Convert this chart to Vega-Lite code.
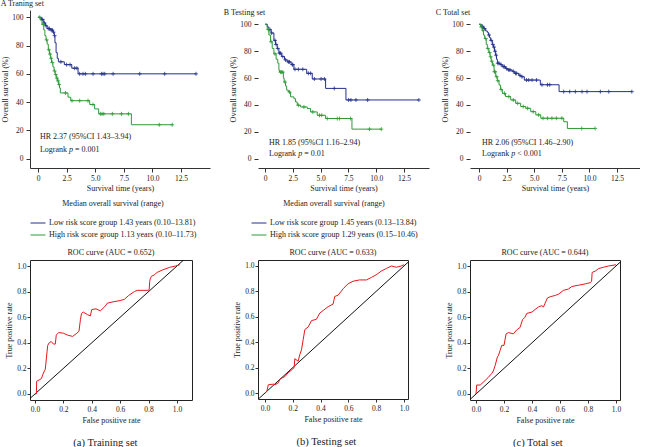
{
"$schema":"https://vega.github.io/schema/vega-lite/v6.json",
"padding":{"left":0,"top":0,"right":0,"bottom":0},
"datasets":{
"km":[
{"p":"A","g":"L","t":0,"s":100},{"p":"A","g":"L","t":0.3,"s":98.5},{"p":"A","g":"L","t":0.5,"s":96},{"p":"A","g":"L","t":0.65,"s":94},{"p":"A","g":"L","t":0.8,"s":92},{"p":"A","g":"L","t":1.1,"s":91},{"p":"A","g":"L","t":1.3,"s":89.5},{"p":"A","g":"L","t":1.42,"s":87},{"p":"A","g":"L","t":1.48,"s":82},{"p":"A","g":"L","t":1.58,"s":75},{"p":"A","g":"L","t":1.68,"s":71},{"p":"A","g":"L","t":1.78,"s":68.5},{"p":"A","g":"L","t":2.3,"s":66.5},{"p":"A","g":"L","t":2.95,"s":64},{"p":"A","g":"L","t":3.5,"s":60},{"p":"A","g":"L","t":13.81,"s":60},
{"p":"A","g":"H","t":0,"s":100},{"p":"A","g":"H","t":0.2,"s":98},{"p":"A","g":"H","t":0.35,"s":95},{"p":"A","g":"H","t":0.5,"s":91},{"p":"A","g":"H","t":0.6,"s":87},{"p":"A","g":"H","t":0.7,"s":84},{"p":"A","g":"H","t":0.8,"s":81},{"p":"A","g":"H","t":0.9,"s":77},{"p":"A","g":"H","t":1.0,"s":74},{"p":"A","g":"H","t":1.1,"s":71},{"p":"A","g":"H","t":1.18,"s":68},{"p":"A","g":"H","t":1.3,"s":65},{"p":"A","g":"H","t":1.4,"s":62},{"p":"A","g":"H","t":1.5,"s":59.5},{"p":"A","g":"H","t":1.6,"s":57},{"p":"A","g":"H","t":1.7,"s":55},{"p":"A","g":"H","t":1.8,"s":52.5},{"p":"A","g":"H","t":1.88,"s":50},{"p":"A","g":"H","t":1.95,"s":46.5},{"p":"A","g":"H","t":2.62,"s":43.5},{"p":"A","g":"H","t":2.86,"s":41},{"p":"A","g":"H","t":4.52,"s":38.3},{"p":"A","g":"H","t":4.95,"s":35.2},{"p":"A","g":"H","t":5.3,"s":31.7},{"p":"A","g":"H","t":8.16,"s":24},{"p":"A","g":"H","t":11.73,"s":24},
{"p":"B","g":"L","t":0,"s":100},{"p":"B","g":"L","t":0.2,"s":98},{"p":"B","g":"L","t":0.35,"s":96},{"p":"B","g":"L","t":0.55,"s":93.5},{"p":"B","g":"L","t":0.8,"s":88},{"p":"B","g":"L","t":0.95,"s":85},{"p":"B","g":"L","t":1.1,"s":82},{"p":"B","g":"L","t":1.25,"s":78.5},{"p":"B","g":"L","t":1.5,"s":76},{"p":"B","g":"L","t":1.75,"s":73.5},{"p":"B","g":"L","t":2.0,"s":72},{"p":"B","g":"L","t":2.35,"s":70},{"p":"B","g":"L","t":2.6,"s":66.5},{"p":"B","g":"L","t":3.75,"s":63.5},{"p":"B","g":"L","t":4.25,"s":59.3},{"p":"B","g":"L","t":5.45,"s":52.3},{"p":"B","g":"L","t":7.28,"s":43.7},{"p":"B","g":"L","t":13.84,"s":43.7},
{"p":"B","g":"H","t":0,"s":100},{"p":"B","g":"H","t":0.2,"s":96},{"p":"B","g":"H","t":0.35,"s":92},{"p":"B","g":"H","t":0.5,"s":87},{"p":"B","g":"H","t":0.65,"s":82},{"p":"B","g":"H","t":0.8,"s":78},{"p":"B","g":"H","t":1.0,"s":74},{"p":"B","g":"H","t":1.15,"s":71},{"p":"B","g":"H","t":1.25,"s":66},{"p":"B","g":"H","t":1.3,"s":64.4},{"p":"B","g":"H","t":1.65,"s":60},{"p":"B","g":"H","t":1.72,"s":57},{"p":"B","g":"H","t":1.85,"s":54},{"p":"B","g":"H","t":1.95,"s":51},{"p":"B","g":"H","t":2.1,"s":49.6},{"p":"B","g":"H","t":2.3,"s":46},{"p":"B","g":"H","t":2.6,"s":44.6},{"p":"B","g":"H","t":2.75,"s":42.2},{"p":"B","g":"H","t":2.9,"s":39.8},{"p":"B","g":"H","t":3.2,"s":38.5},{"p":"B","g":"H","t":3.8,"s":37.3},{"p":"B","g":"H","t":4.1,"s":34.8},{"p":"B","g":"H","t":4.7,"s":32.3},{"p":"B","g":"H","t":5.45,"s":29.9},{"p":"B","g":"H","t":7.82,"s":22},{"p":"B","g":"H","t":10.46,"s":22},
{"p":"C","g":"L","t":0,"s":100},{"p":"C","g":"L","t":0.2,"s":98.5},{"p":"C","g":"L","t":0.4,"s":96.8},{"p":"C","g":"L","t":0.6,"s":95},{"p":"C","g":"L","t":0.75,"s":94},{"p":"C","g":"L","t":0.85,"s":92},{"p":"C","g":"L","t":0.95,"s":90},{"p":"C","g":"L","t":1.05,"s":88},{"p":"C","g":"L","t":1.2,"s":85},{"p":"C","g":"L","t":1.3,"s":83},{"p":"C","g":"L","t":1.4,"s":80},{"p":"C","g":"L","t":1.5,"s":77},{"p":"C","g":"L","t":1.58,"s":74},{"p":"C","g":"L","t":1.66,"s":71},{"p":"C","g":"L","t":1.9,"s":70},{"p":"C","g":"L","t":2.1,"s":68.5},{"p":"C","g":"L","t":2.4,"s":67},{"p":"C","g":"L","t":2.6,"s":66},{"p":"C","g":"L","t":3.0,"s":65},{"p":"C","g":"L","t":3.2,"s":63.5},{"p":"C","g":"L","t":3.6,"s":62},{"p":"C","g":"L","t":3.8,"s":61},{"p":"C","g":"L","t":4.1,"s":58.5},{"p":"C","g":"L","t":5.55,"s":55},{"p":"C","g":"L","t":7.25,"s":49.9},{"p":"C","g":"L","t":13.84,"s":49.9},
{"p":"C","g":"H","t":0,"s":100},{"p":"C","g":"H","t":0.15,"s":98},{"p":"C","g":"H","t":0.3,"s":95.6},{"p":"C","g":"H","t":0.4,"s":92},{"p":"C","g":"H","t":0.51,"s":89.4},{"p":"C","g":"H","t":0.65,"s":85},{"p":"C","g":"H","t":0.75,"s":82},{"p":"C","g":"H","t":0.88,"s":79},{"p":"C","g":"H","t":1.0,"s":75.8},{"p":"C","g":"H","t":1.1,"s":72.5},{"p":"C","g":"H","t":1.21,"s":69.6},{"p":"C","g":"H","t":1.36,"s":64.7},{"p":"C","g":"H","t":1.51,"s":61},{"p":"C","g":"H","t":1.65,"s":58},{"p":"C","g":"H","t":1.81,"s":54.8},{"p":"C","g":"H","t":1.95,"s":51.5},{"p":"C","g":"H","t":2.11,"s":48.6},{"p":"C","g":"H","t":2.4,"s":46.2},{"p":"C","g":"H","t":2.87,"s":43.7},{"p":"C","g":"H","t":3.32,"s":41.2},{"p":"C","g":"H","t":3.77,"s":38.8},{"p":"C","g":"H","t":4.23,"s":37.5},{"p":"C","g":"H","t":4.68,"s":35},{"p":"C","g":"H","t":5.14,"s":32.6},{"p":"C","g":"H","t":5.59,"s":30.1},{"p":"C","g":"H","t":7.67,"s":27.5},{"p":"C","g":"H","t":8.0,"s":22.5},{"p":"C","g":"H","t":10.51,"s":22.5}
],
"cens":[
{"p":"A","g":"L","t":0.4,"s":98.5},{"p":"A","g":"L","t":0.55,"s":96},{"p":"A","g":"L","t":0.7,"s":94},{"p":"A","g":"L","t":0.9,"s":92},{"p":"A","g":"L","t":1.0,"s":92},{"p":"A","g":"L","t":1.15,"s":91},{"p":"A","g":"L","t":1.25,"s":91},{"p":"A","g":"L","t":1.35,"s":89.5},{"p":"A","g":"L","t":1.45,"s":87},{"p":"A","g":"L","t":2.0,"s":68.5},{"p":"A","g":"L","t":2.5,"s":66.5},{"p":"A","g":"L","t":2.8,"s":66.5},{"p":"A","g":"L","t":3.2,"s":64},{"p":"A","g":"L","t":3.4,"s":64},{"p":"A","g":"L","t":3.64,"s":60},{"p":"A","g":"L","t":3.93,"s":60},{"p":"A","g":"L","t":4.14,"s":60},{"p":"A","g":"L","t":4.81,"s":60},{"p":"A","g":"L","t":5.54,"s":60},{"p":"A","g":"L","t":5.68,"s":60},{"p":"A","g":"L","t":5.83,"s":60},{"p":"A","g":"L","t":6.56,"s":60},{"p":"A","g":"L","t":8.89,"s":60},{"p":"A","g":"L","t":11.07,"s":60},{"p":"A","g":"L","t":13.81,"s":60},
{"p":"A","g":"H","t":0.15,"s":100},{"p":"A","g":"H","t":0.45,"s":95},{"p":"A","g":"H","t":0.75,"s":84},{"p":"A","g":"H","t":0.95,"s":77},{"p":"A","g":"H","t":1.05,"s":74},{"p":"A","g":"H","t":1.15,"s":71},{"p":"A","g":"H","t":1.25,"s":68},{"p":"A","g":"H","t":1.45,"s":62},{"p":"A","g":"H","t":1.55,"s":59.5},{"p":"A","g":"H","t":1.65,"s":57},{"p":"A","g":"H","t":1.75,"s":55},{"p":"A","g":"H","t":1.85,"s":52.5},{"p":"A","g":"H","t":2.4,"s":46.5},{"p":"A","g":"H","t":2.97,"s":41},{"p":"A","g":"H","t":3.64,"s":41},{"p":"A","g":"H","t":4.37,"s":41},{"p":"A","g":"H","t":4.8,"s":38.3},{"p":"A","g":"H","t":5.45,"s":31.7},{"p":"A","g":"H","t":5.6,"s":31.7},{"p":"A","g":"H","t":5.75,"s":31.7},{"p":"A","g":"H","t":6.5,"s":31.7},{"p":"A","g":"H","t":7.3,"s":31.7},{"p":"A","g":"H","t":7.9,"s":31.7},{"p":"A","g":"H","t":10.6,"s":24},{"p":"A","g":"H","t":11.73,"s":24},
{"p":"B","g":"L","t":0.45,"s":96},{"p":"B","g":"L","t":0.6,"s":93.5},{"p":"B","g":"L","t":0.9,"s":88},{"p":"B","g":"L","t":1.0,"s":85},{"p":"B","g":"L","t":1.15,"s":82},{"p":"B","g":"L","t":1.3,"s":78.5},{"p":"B","g":"L","t":1.4,"s":78.5},{"p":"B","g":"L","t":1.6,"s":76},{"p":"B","g":"L","t":1.85,"s":73.5},{"p":"B","g":"L","t":2.1,"s":72},{"p":"B","g":"L","t":2.2,"s":72},{"p":"B","g":"L","t":2.45,"s":70},{"p":"B","g":"L","t":2.5,"s":70},{"p":"B","g":"L","t":2.7,"s":66.5},{"p":"B","g":"L","t":3.0,"s":66.5},{"p":"B","g":"L","t":3.4,"s":66.5},{"p":"B","g":"L","t":3.9,"s":63.5},{"p":"B","g":"L","t":4.1,"s":63.5},{"p":"B","g":"L","t":4.44,"s":59.3},{"p":"B","g":"L","t":5.04,"s":59.3},{"p":"B","g":"L","t":5.34,"s":59.3},{"p":"B","g":"L","t":6.23,"s":52.3},{"p":"B","g":"L","t":7.52,"s":43.7},{"p":"B","g":"L","t":7.73,"s":43.7},{"p":"B","g":"L","t":8.18,"s":43.7},{"p":"B","g":"L","t":9.23,"s":43.7},{"p":"B","g":"L","t":13.84,"s":43.7},
{"p":"B","g":"H","t":0.3,"s":96},{"p":"B","g":"H","t":0.55,"s":87},{"p":"B","g":"H","t":0.9,"s":78},{"p":"B","g":"H","t":1.4,"s":64.4},{"p":"B","g":"H","t":1.5,"s":64.4},{"p":"B","g":"H","t":1.6,"s":64.4},{"p":"B","g":"H","t":1.8,"s":57},{"p":"B","g":"H","t":2.2,"s":49.6},{"p":"B","g":"H","t":3.0,"s":39.8},{"p":"B","g":"H","t":3.5,"s":38.5},{"p":"B","g":"H","t":4.3,"s":34.8},{"p":"B","g":"H","t":4.9,"s":32.3},{"p":"B","g":"H","t":5.1,"s":32.3},{"p":"B","g":"H","t":5.6,"s":29.9},{"p":"B","g":"H","t":6.5,"s":29.9},{"p":"B","g":"H","t":6.7,"s":29.9},{"p":"B","g":"H","t":7.7,"s":29.9},{"p":"B","g":"H","t":9.4,"s":22},{"p":"B","g":"H","t":10.46,"s":22},
{"p":"C","g":"L","t":0.3,"s":98.5},{"p":"C","g":"L","t":0.5,"s":96.8},{"p":"C","g":"L","t":0.9,"s":92},{"p":"C","g":"L","t":1.1,"s":88},{"p":"C","g":"L","t":1.25,"s":85},{"p":"C","g":"L","t":1.35,"s":83},{"p":"C","g":"L","t":1.45,"s":80},{"p":"C","g":"L","t":1.55,"s":77},{"p":"C","g":"L","t":1.7,"s":71},{"p":"C","g":"L","t":1.8,"s":71},{"p":"C","g":"L","t":2.0,"s":70},{"p":"C","g":"L","t":2.2,"s":68.5},{"p":"C","g":"L","t":2.3,"s":68.5},{"p":"C","g":"L","t":2.5,"s":67},{"p":"C","g":"L","t":2.7,"s":66},{"p":"C","g":"L","t":2.8,"s":66},{"p":"C","g":"L","t":3.1,"s":65},{"p":"C","g":"L","t":3.3,"s":63.5},{"p":"C","g":"L","t":3.4,"s":63.5},{"p":"C","g":"L","t":3.7,"s":62},{"p":"C","g":"L","t":3.9,"s":61},{"p":"C","g":"L","t":4.3,"s":58.5},{"p":"C","g":"L","t":4.5,"s":58.5},{"p":"C","g":"L","t":4.8,"s":58.5},{"p":"C","g":"L","t":5.2,"s":58.5},{"p":"C","g":"L","t":5.7,"s":55},{"p":"C","g":"L","t":6.2,"s":55},{"p":"C","g":"L","t":6.4,"s":55},{"p":"C","g":"L","t":7.67,"s":49.9},{"p":"C","g":"L","t":8.21,"s":49.9},{"p":"C","g":"L","t":8.72,"s":49.9},{"p":"C","g":"L","t":9.33,"s":49.9},{"p":"C","g":"L","t":9.78,"s":49.9},{"p":"C","g":"L","t":10.99,"s":49.9},{"p":"C","g":"L","t":11.75,"s":49.9},{"p":"C","g":"L","t":13.84,"s":49.9},
{"p":"C","g":"H","t":0.2,"s":98},{"p":"C","g":"H","t":0.35,"s":95.6},{"p":"C","g":"H","t":0.6,"s":89.4},{"p":"C","g":"H","t":0.8,"s":82},{"p":"C","g":"H","t":0.95,"s":79},{"p":"C","g":"H","t":1.05,"s":75.8},{"p":"C","g":"H","t":1.15,"s":72.5},{"p":"C","g":"H","t":1.3,"s":69.6},{"p":"C","g":"H","t":1.4,"s":64.7},{"p":"C","g":"H","t":1.45,"s":64.7},{"p":"C","g":"H","t":1.6,"s":61},{"p":"C","g":"H","t":1.7,"s":58},{"p":"C","g":"H","t":2.0,"s":51.5},{"p":"C","g":"H","t":2.3,"s":48.6},{"p":"C","g":"H","t":2.7,"s":46.2},{"p":"C","g":"H","t":3.1,"s":43.7},{"p":"C","g":"H","t":3.5,"s":41.2},{"p":"C","g":"H","t":4.0,"s":38.8},{"p":"C","g":"H","t":4.4,"s":37.5},{"p":"C","g":"H","t":4.9,"s":35},{"p":"C","g":"H","t":5.4,"s":32.6},{"p":"C","g":"H","t":5.8,"s":30.1},{"p":"C","g":"H","t":6.2,"s":30.1},{"p":"C","g":"H","t":6.6,"s":30.1},{"p":"C","g":"H","t":7.0,"s":30.1},{"p":"C","g":"H","t":7.5,"s":30.1},{"p":"C","g":"H","t":9.3,"s":22.5},{"p":"C","g":"H","t":10.51,"s":22.5}
],
"ann":[
{"p":"A","t":0.17,"s":15.5,"label":"HR 2.37 (95%CI 1.43–3.94)","it":false},{"p":"A","t":0.17,"s":6.3,"label":"Logrank","it":false},{"p":"A","t":2.71,"s":6.3,"label":"p","it":true},{"p":"A","t":3.24,"s":6.3,"label":"= 0.001","it":false},
{"p":"B","t":0.36,"s":11.9,"label":"HR 1.85 (95%CI 1.16–2.94)","it":false},{"p":"B","t":0.36,"s":3.7,"label":"Logrank","it":false},{"p":"B","t":2.98,"s":3.7,"label":"p","it":true},{"p":"B","t":3.52,"s":3.7,"label":"= 0.01","it":false},
{"p":"C","t":0.27,"s":11.9,"label":"HR 2.06 (95%CI 1.46–2.90)","it":false},{"p":"C","t":0.27,"s":3.7,"label":"Logrank","it":false},{"p":"C","t":2.91,"s":3.7,"label":"p","it":true},{"p":"C","t":3.45,"s":3.7,"label":"< 0.001","it":false}
],
"diag":[{"x":-0.06,"y":-0.06},{"x":1.06,"y":1.06}],
"roc":[
{"p":"A","x":0,"y":0},{"p":"A","x":0.01,"y":0.001},{"p":"A","x":0.012,"y":0.1},{"p":"A","x":0.03,"y":0.11},{"p":"A","x":0.045,"y":0.12},{"p":"A","x":0.055,"y":0.15},{"p":"A","x":0.066,"y":0.18},{"p":"A","x":0.072,"y":0.19},{"p":"A","x":0.078,"y":0.25},{"p":"A","x":0.085,"y":0.33},{"p":"A","x":0.09,"y":0.38},{"p":"A","x":0.1,"y":0.4},{"p":"A","x":0.115,"y":0.41},{"p":"A","x":0.13,"y":0.39},{"p":"A","x":0.143,"y":0.39},{"p":"A","x":0.15,"y":0.46},{"p":"A","x":0.167,"y":0.48},{"p":"A","x":0.2,"y":0.475},{"p":"A","x":0.23,"y":0.46},{"p":"A","x":0.265,"y":0.45},{"p":"A","x":0.29,"y":0.47},{"p":"A","x":0.31,"y":0.49},{"p":"A","x":0.32,"y":0.58},{"p":"A","x":0.328,"y":0.63},{"p":"A","x":0.34,"y":0.64},{"p":"A","x":0.37,"y":0.62},{"p":"A","x":0.39,"y":0.61},{"p":"A","x":0.4,"y":0.66},{"p":"A","x":0.43,"y":0.665},{"p":"A","x":0.46,"y":0.65},{"p":"A","x":0.49,"y":0.68},{"p":"A","x":0.51,"y":0.71},{"p":"A","x":0.55,"y":0.72},{"p":"A","x":0.6,"y":0.73},{"p":"A","x":0.63,"y":0.74},{"p":"A","x":0.66,"y":0.77},{"p":"A","x":0.7,"y":0.8},{"p":"A","x":0.72,"y":0.81},{"p":"A","x":0.8,"y":0.81},{"p":"A","x":0.805,"y":0.82},{"p":"A","x":0.808,"y":0.88},{"p":"A","x":0.812,"y":0.9},{"p":"A","x":0.82,"y":0.92},{"p":"A","x":0.84,"y":0.93},{"p":"A","x":0.86,"y":0.95},{"p":"A","x":0.9,"y":0.97},{"p":"A","x":0.95,"y":0.99},{"p":"A","x":0.99,"y":1.0},{"p":"A","x":1.02,"y":1.01},
{"p":"B","x":0,"y":0},{"p":"B","x":0.007,"y":0.005},{"p":"B","x":0.015,"y":0.02},{"p":"B","x":0.024,"y":0.065},{"p":"B","x":0.06,"y":0.07},{"p":"B","x":0.072,"y":0.065},{"p":"B","x":0.096,"y":0.08},{"p":"B","x":0.108,"y":0.11},{"p":"B","x":0.144,"y":0.13},{"p":"B","x":0.167,"y":0.16},{"p":"B","x":0.19,"y":0.18},{"p":"B","x":0.21,"y":0.2},{"p":"B","x":0.215,"y":0.27},{"p":"B","x":0.239,"y":0.25},{"p":"B","x":0.25,"y":0.3},{"p":"B","x":0.263,"y":0.34},{"p":"B","x":0.275,"y":0.42},{"p":"B","x":0.287,"y":0.5},{"p":"B","x":0.311,"y":0.52},{"p":"B","x":0.335,"y":0.57},{"p":"B","x":0.37,"y":0.58},{"p":"B","x":0.395,"y":0.63},{"p":"B","x":0.419,"y":0.65},{"p":"B","x":0.455,"y":0.68},{"p":"B","x":0.49,"y":0.7},{"p":"B","x":0.502,"y":0.76},{"p":"B","x":0.526,"y":0.77},{"p":"B","x":0.562,"y":0.82},{"p":"B","x":0.598,"y":0.86},{"p":"B","x":0.634,"y":0.88},{"p":"B","x":0.68,"y":0.89},{"p":"B","x":0.73,"y":0.89},{"p":"B","x":0.766,"y":0.91},{"p":"B","x":0.8,"y":0.93},{"p":"B","x":0.837,"y":0.96},{"p":"B","x":0.873,"y":0.98},{"p":"B","x":0.909,"y":1.0},{"p":"B","x":0.945,"y":0.99},{"p":"B","x":0.98,"y":1.0},{"p":"B","x":1.0,"y":1.01},
{"p":"C","x":0,"y":0},{"p":"C","x":0.005,"y":0.07},{"p":"C","x":0.03,"y":0.07},{"p":"C","x":0.05,"y":0.09},{"p":"C","x":0.088,"y":0.13},{"p":"C","x":0.112,"y":0.16},{"p":"C","x":0.124,"y":0.18},{"p":"C","x":0.136,"y":0.22},{"p":"C","x":0.153,"y":0.29},{"p":"C","x":0.16,"y":0.3},{"p":"C","x":0.172,"y":0.34},{"p":"C","x":0.184,"y":0.38},{"p":"C","x":0.2,"y":0.38},{"p":"C","x":0.215,"y":0.47},{"p":"C","x":0.232,"y":0.48},{"p":"C","x":0.267,"y":0.47},{"p":"C","x":0.29,"y":0.5},{"p":"C","x":0.315,"y":0.52},{"p":"C","x":0.332,"y":0.58},{"p":"C","x":0.35,"y":0.6},{"p":"C","x":0.363,"y":0.63},{"p":"C","x":0.4,"y":0.64},{"p":"C","x":0.422,"y":0.66},{"p":"C","x":0.446,"y":0.68},{"p":"C","x":0.47,"y":0.69},{"p":"C","x":0.482,"y":0.68},{"p":"C","x":0.494,"y":0.71},{"p":"C","x":0.51,"y":0.75},{"p":"C","x":0.53,"y":0.76},{"p":"C","x":0.566,"y":0.77},{"p":"C","x":0.59,"y":0.78},{"p":"C","x":0.625,"y":0.81},{"p":"C","x":0.66,"y":0.82},{"p":"C","x":0.685,"y":0.84},{"p":"C","x":0.733,"y":0.85},{"p":"C","x":0.78,"y":0.86},{"p":"C","x":0.816,"y":0.87},{"p":"C","x":0.826,"y":0.88},{"p":"C","x":0.83,"y":0.95},{"p":"C","x":0.852,"y":0.96},{"p":"C","x":0.876,"y":0.98},{"p":"C","x":0.91,"y":0.99},{"p":"C","x":0.947,"y":1.0},{"p":"C","x":1.0,"y":1.01}
]
},
"spacing":13,
"resolve":{"scale":{"color":"independent","x":"independent","y":"independent"},"legend":{"color":"independent"}},
"hconcat":[
{"vconcat":[
 {"width":180,"height":158,"title":{"text":"A Traning set","anchor":"start","fontSize":8,"offset":2,"dx":-1},
  "layer":[
   {"data":{"name":"km"},"transform":[{"filter":"datum.p=='A'"}],"mark":{"type":"line","interpolate":"step-after","strokeWidth":1},
    "encoding":{"x":{"field":"t","type":"quantitative","scale":{"domain":[-0.7,15.03],"nice":false,"zero":false},"axis":{"title":"Survival time (years)","values":[0,2.5,5,7.5,10,12.5],"tickCount":20,"labelExpr":"datum.value==0?'0':format(datum.value,'.1f')","titlePadding":3,"labelOverlap":false}},
     "y":{"field":"s","type":"quantitative","scale":{"domain":[-6.6,105.15],"nice":false,"zero":false},"axis":{"title":"Overall survival (%)","values":[0,20,40,60,80,100],"tickCount":20,"titlePadding":2,"labelPadding":3,"labelOverlap":false}},
     "color":{"field":"g","type":"nominal","scale":{"domain":["L","H"],"range":["#23318c","#2f9a36"]},
      "legend":{"orient":"none","legendX":0,"legendY":190,"direction":"vertical","title":"Median overall survival (range)","titleAnchor":"middle","titlePadding":7,"symbolType":"stroke","symbolSize":225,"symbolStrokeWidth":1,"labelOffset":3,"rowPadding":-3,"labelLimit":400,"padding":0,
       "labelExpr":"datum.label=='L'?'Low risk score group 1.43 years (0.10–13.81)':'High risk score group 1.13 years (0.10–11.73)'"}}}},
   {"data":{"name":"cens"},"transform":[{"filter":"datum.p=='A'"}],"mark":{"type":"point","shape":"M-1,0H1M0,-1V1","size":16,"filled":false,"strokeWidth":0.8,"opacity":1},
    "encoding":{"x":{"field":"t","type":"quantitative"},"y":{"field":"s","type":"quantitative"},"color":{"field":"g","type":"nominal","legend":null}}},
   {"data":{"name":"ann"},"transform":[{"filter":"datum.p=='A' && !datum.it"}],"mark":{"type":"text","align":"left","baseline":"middle","fontSize":8,"color":"#222"},
    "encoding":{"x":{"field":"t","type":"quantitative"},"y":{"field":"s","type":"quantitative"},"text":{"field":"label"}}},
   {"data":{"name":"ann"},"transform":[{"filter":"datum.p=='A' && datum.it"}],"mark":{"type":"text","align":"left","baseline":"middle","fontSize":8,"fontStyle":"italic","color":"#222"},
    "encoding":{"x":{"field":"t","type":"quantitative"},"y":{"field":"s","type":"quantitative"},"text":{"field":"label"}}}
  ]},
 {"width":162,"height":140,"title":{"text":"ROC curve (AUC = 0.652)","fontSize":8,"offset":3},"view":{"stroke":"#222"},
  "layer":[
   {"data":{"name":"diag"},"mark":{"type":"line","color":"#111","strokeWidth":1,"clip":true},
    "encoding":{"x":{"field":"x","type":"quantitative","scale":{"domain":[-0.035,1.106],"nice":false,"zero":false},"axis":{"title":"False positive rate","values":[0,0.2,0.4,0.6,0.8,1],"tickCount":20,"format":".1f","domain":false,"tickSize":3,"labelOverlap":false}},
     "y":{"field":"y","type":"quantitative","scale":{"domain":[-0.047,1.047],"nice":false,"zero":false},"axis":{"title":"True positive rate","values":[0,0.2,0.4,0.6,0.8,1],"tickCount":20,"format":".1f","domain":false,"tickSize":3,"labelPadding":1,"titlePadding":3,"labelOverlap":false}}}},
   {"data":{"name":"roc"},"transform":[{"filter":"datum.p=='A'"}],"mark":{"type":"line","color":"#e8151b","strokeWidth":1,"clip":true},
    "encoding":{"x":{"field":"x","type":"quantitative"},"y":{"field":"y","type":"quantitative"}}}
  ]}
 ],"spacing":55,"title":{"text":"(a) Training set","orient":"bottom","anchor":"middle","fontSize":10.5,"offset":13}},
{"hconcat":[
{"vconcat":[
 {"width":171,"height":158,"title":{"text":"B Testing set","anchor":"start","fontSize":8,"offset":-7,"dx":-6},
  "layer":[
   {"data":{"name":"km"},"transform":[{"filter":"datum.p=='B'"}],"mark":{"type":"line","interpolate":"step-after","strokeWidth":1},
    "encoding":{"x":{"field":"t","type":"quantitative","scale":{"domain":[-0.63,14.75],"nice":false,"zero":false},"axis":{"title":"Survival time (years)","values":[0,2.5,5,7.5,10,12.5],"tickCount":20,"labelExpr":"datum.value==0?'0':format(datum.value,'.1f')","titlePadding":3,"labelOverlap":false}},
     "y":{"field":"s","type":"quantitative","scale":{"domain":[-6.9,110.6],"nice":false,"zero":false},"axis":{"title":"Overall survival (%)","values":[0,20,40,60,80,100],"tickCount":20,"titlePadding":2,"labelPadding":3,"domain":false,"labelOverlap":false}},
     "color":{"field":"g","type":"nominal","scale":{"domain":["L","H"],"range":["#23318c","#2f9a36"]},
      "legend":{"orient":"none","legendX":-7,"legendY":190,"direction":"vertical","title":"Median overall survival (range)","titleAnchor":"middle","titlePadding":7,"symbolType":"stroke","symbolSize":225,"symbolStrokeWidth":1,"labelOffset":3,"rowPadding":-3,"labelLimit":400,"padding":0,
       "labelExpr":"datum.label=='L'?'Low risk score group 1.45 years (0.13–13.84)':'High risk score group 1.29 years (0.15–10.46)'"}}}},
   {"mark":{"type":"rule","color":"#333","strokeWidth":1},"encoding":{"x":{"datum":-0.63},"y":{"datum":-6.9},"y2":{"datum":105}}},
   {"data":{"name":"cens"},"transform":[{"filter":"datum.p=='B'"}],"mark":{"type":"point","shape":"M-1,0H1M0,-1V1","size":16,"filled":false,"strokeWidth":0.8,"opacity":1},
    "encoding":{"x":{"field":"t","type":"quantitative"},"y":{"field":"s","type":"quantitative"},"color":{"field":"g","type":"nominal","legend":null}}},
   {"data":{"name":"ann"},"transform":[{"filter":"datum.p=='B' && !datum.it"}],"mark":{"type":"text","align":"left","baseline":"middle","fontSize":8,"color":"#222"},
    "encoding":{"x":{"field":"t","type":"quantitative"},"y":{"field":"s","type":"quantitative"},"text":{"field":"label"}}},
   {"data":{"name":"ann"},"transform":[{"filter":"datum.p=='B' && datum.it"}],"mark":{"type":"text","align":"left","baseline":"middle","fontSize":8,"fontStyle":"italic","color":"#222"},
    "encoding":{"x":{"field":"t","type":"quantitative"},"y":{"field":"s","type":"quantitative"},"text":{"field":"label"}}}
  ]},
 {"width":150,"height":139,"title":{"text":"ROC curve (AUC = 0.633)","fontSize":8,"offset":3},"view":{"stroke":"#222"},
  "layer":[
   {"data":{"name":"diag"},"mark":{"type":"line","color":"#111","strokeWidth":1,"clip":true},
    "encoding":{"x":{"field":"x","type":"quantitative","scale":{"domain":[-0.05,1.029],"nice":false,"zero":false},"axis":{"title":"False positive rate","values":[0,0.2,0.4,0.6,0.8,1],"tickCount":20,"format":".1f","domain":false,"tickSize":3,"labelOverlap":false}},
     "y":{"field":"y","type":"quantitative","scale":{"domain":[-0.047,1.047],"nice":false,"zero":false},"axis":{"title":"True positive rate","values":[0,0.2,0.4,0.6,0.8,1],"tickCount":20,"format":".1f","domain":false,"tickSize":3,"labelPadding":1,"titlePadding":3,"labelOverlap":false}}}},
   {"data":{"name":"roc"},"transform":[{"filter":"datum.p=='B'"}],"mark":{"type":"line","color":"#e8151b","strokeWidth":1,"clip":true},
    "encoding":{"x":{"field":"x","type":"quantitative"},"y":{"field":"y","type":"quantitative"}}}
  ]}
 ],"spacing":55,"title":{"text":"(b) Testing set","orient":"bottom","anchor":"middle","fontSize":10.5,"offset":13}},
{"vconcat":[
 {"width":170,"height":158,"title":{"text":"C Total set","anchor":"start","fontSize":8,"offset":-7,"dx":-6},
  "layer":[
   {"data":{"name":"km"},"transform":[{"filter":"datum.p=='C'"}],"mark":{"type":"line","interpolate":"step-after","strokeWidth":1},
    "encoding":{"x":{"field":"t","type":"quantitative","scale":{"domain":[-0.82,14.58],"nice":false,"zero":false},"axis":{"title":"Survival time (years)","values":[0,2.5,5,7.5,10,12.5],"tickCount":20,"labelExpr":"datum.value==0?'0':format(datum.value,'.1f')","titlePadding":3,"labelOverlap":false}},
     "y":{"field":"s","type":"quantitative","scale":{"domain":[-6.9,110.6],"nice":false,"zero":false},"axis":{"title":"Overall survival (%)","values":[0,20,40,60,80,100],"tickCount":20,"titlePadding":2,"labelPadding":3,"domain":false,"labelOverlap":false}},
     "color":{"field":"g","type":"nominal","scale":{"domain":["L","H"],"range":["#23318c","#2f9a36"]},
      "legend":{"orient":"none","legendX":-6,"legendY":190,"direction":"vertical","title":"Median overall survival (range)","titleAnchor":"middle","titlePadding":7,"symbolType":"stroke","symbolSize":225,"symbolStrokeWidth":1,"labelOffset":3,"rowPadding":-3,"labelLimit":400,"padding":0,
       "labelExpr":"datum.label=='L'?'Low risk score group 1.46 years (0.10–13.84)':'High risk score group 1.17 years (0.10–10.51)'"}}}},
   {"mark":{"type":"rule","color":"#333","strokeWidth":1},"encoding":{"x":{"datum":-0.82},"y":{"datum":-6.9},"y2":{"datum":105}}},
   {"data":{"name":"cens"},"transform":[{"filter":"datum.p=='C'"}],"mark":{"type":"point","shape":"M-1,0H1M0,-1V1","size":16,"filled":false,"strokeWidth":0.8,"opacity":1},
    "encoding":{"x":{"field":"t","type":"quantitative"},"y":{"field":"s","type":"quantitative"},"color":{"field":"g","type":"nominal","legend":null}}},
   {"data":{"name":"ann"},"transform":[{"filter":"datum.p=='C' && !datum.it"}],"mark":{"type":"text","align":"left","baseline":"middle","fontSize":8,"color":"#222"},
    "encoding":{"x":{"field":"t","type":"quantitative"},"y":{"field":"s","type":"quantitative"},"text":{"field":"label"}}},
   {"data":{"name":"ann"},"transform":[{"filter":"datum.p=='C' && datum.it"}],"mark":{"type":"text","align":"left","baseline":"middle","fontSize":8,"fontStyle":"italic","color":"#222"},
    "encoding":{"x":{"field":"t","type":"quantitative"},"y":{"field":"s","type":"quantitative"},"text":{"field":"label"}}}
  ]},
 {"width":150,"height":140,"title":{"text":"ROC curve (AUC = 0.644)","fontSize":8,"offset":3},"view":{"stroke":"#222"},
  "layer":[
   {"data":{"name":"diag"},"mark":{"type":"line","color":"#111","strokeWidth":1,"clip":true},
    "encoding":{"x":{"field":"x","type":"quantitative","scale":{"domain":[-0.043,1.029],"nice":false,"zero":false},"axis":{"title":"False positive rate","values":[0,0.2,0.4,0.6,0.8,1],"tickCount":20,"format":".1f","domain":false,"tickSize":3,"labelOverlap":false}},
     "y":{"field":"y","type":"quantitative","scale":{"domain":[-0.047,1.047],"nice":false,"zero":false},"axis":{"title":"True positive rate","values":[0,0.2,0.4,0.6,0.8,1],"tickCount":20,"format":".1f","domain":false,"tickSize":3,"labelPadding":1,"titlePadding":3,"labelOverlap":false}}}},
   {"data":{"name":"roc"},"transform":[{"filter":"datum.p=='C'"}],"mark":{"type":"line","color":"#e8151b","strokeWidth":1,"clip":true},
    "encoding":{"x":{"field":"x","type":"quantitative"},"y":{"field":"y","type":"quantitative"}}}
  ]}
 ],"spacing":55,"title":{"text":"(c) Total set","orient":"bottom","anchor":"middle","fontSize":10.5,"offset":13}}
],"spacing":6}
],
"config":{"font":"Liberation Serif","view":{"stroke":null},
 "axis":{"labelFontSize":7.5,"titleFontSize":8,"titleFontWeight":"normal","labelColor":"#222","titleColor":"#222","domainColor":"#333","tickColor":"#333","grid":false,"tickSize":4,"labelPadding":2,"labelOverlap":false,"labelFlush":false},
 "title":{"fontWeight":"normal","color":"#222"},
 "legend":{"titleFontSize":8,"titleFontWeight":"normal","labelFontSize":8,"titleColor":"#222","labelColor":"#222"}}
}
